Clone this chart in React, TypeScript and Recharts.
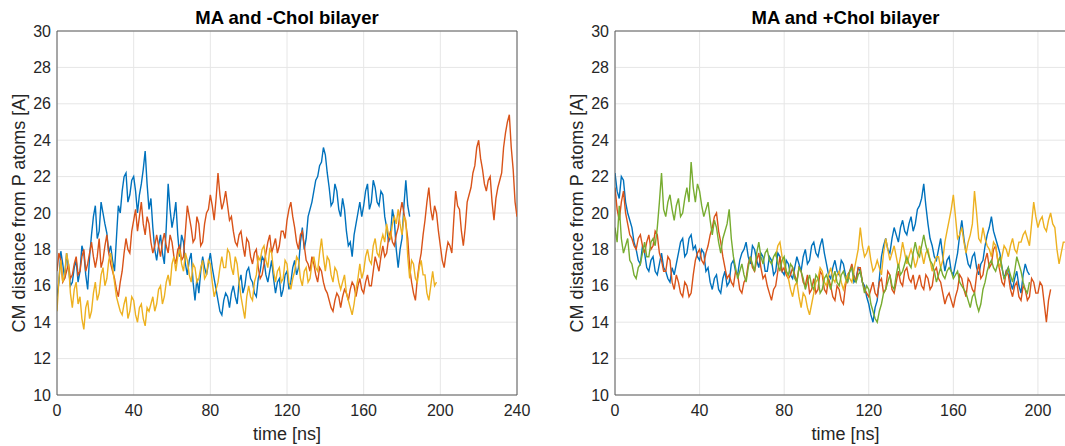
import React from "react";
import { LineChart, Line, XAxis, YAxis, CartesianGrid, ReferenceLine } from "recharts";

// sample grid shared by every trace (ns)
const TIME_NS = [
  0, 1, 2, 3, 4, 5, 6, 7, 8, 9, 10, 11, 12, 13, 14, 15, 16, 17, 18, 19,
  20, 21, 22, 23, 24, 25, 26, 27, 28, 29, 30, 31, 32, 33, 34, 35, 36, 37, 38, 39,
  40, 41, 42, 43, 44, 45, 46, 47, 48, 49, 50, 51, 52, 53, 54, 55, 56, 57, 58, 59,
  60, 61, 62, 63, 64, 65, 66, 67, 68, 69, 70, 71, 72, 73, 74, 75, 76, 77, 78, 79,
  80, 81, 82, 83, 84, 85, 86, 87, 88, 89, 90, 91, 92, 93, 94, 95, 96, 97, 98, 99,
  100, 101, 102, 103, 104, 105, 106, 107, 108, 109, 110, 111, 112, 113, 114, 115, 116, 117, 118, 119,
  120, 121, 122, 123, 124, 125, 126, 127, 128, 129, 130, 131, 132, 133, 134, 135, 136, 137, 138, 139,
  140, 141, 142, 143, 144, 145, 146, 147, 148, 149, 150, 151, 152, 153, 154, 155, 156, 157, 158, 159,
  160, 161, 162, 163, 164, 165, 166, 167, 168, 169, 170, 171, 172, 173, 174, 175, 176, 177, 178, 179,
  180, 181, 182, 183, 184, 185, 186, 187, 188, 189, 190, 191, 192, 193, 194, 195, 196, 197, 198, 199,
  200, 201, 202, 203, 204, 205, 206, 207, 208, 209, 210, 211, 212, 213, 214, 215, 216, 217, 218, 219,
  220, 221, 222, 223, 224, 225, 226, 227, 228, 229, 230, 231, 232, 233, 234, 235, 236, 237, 238, 239, 240,
];

// MA and -Chol bilayer
const NOCHOL_BLUE = [
  15.4, 16.2, 17.9, 17.2, 16.4, 17.8, 17.0, 16.0, 16.2, 17.0, 17.4, 16.2, 16.8, 18.2, 17.8, 16.6, 15.8, 17.6, 18.8, 19.8,
  20.4, 18.6, 19.0, 20.6, 20.0, 19.4, 18.9, 17.8, 18.2, 17.4, 16.8, 18.6, 20.4, 20.0, 21.2, 22.0, 22.2, 20.6, 21.0, 21.8,
  22.0, 21.2, 20.0, 21.0, 21.6, 22.4, 23.4, 21.6, 20.2, 20.8, 19.2, 18.0, 17.4, 18.2, 18.8, 17.8, 17.2, 19.2, 21.6, 20.2,
  19.2, 19.8, 20.6, 18.8, 17.6, 18.8, 18.4, 17.2, 16.6, 17.4, 17.8, 16.2, 15.2, 16.4, 15.6, 16.8, 17.6, 17.0, 16.6, 17.2,
  17.8, 17.0, 16.4, 15.8, 15.2, 14.6, 14.4, 15.2, 15.6, 15.4, 14.8, 15.6, 16.0, 15.4, 15.0, 16.2, 16.6, 15.6, 16.0, 16.8,
  17.0, 16.4, 16.2, 15.6, 15.4, 16.4, 16.8, 17.6, 17.4, 16.6, 16.2, 16.8, 17.4, 16.4, 15.6, 16.2, 16.4, 15.4, 15.8, 16.6,
  16.8, 15.8, 16.2, 17.0, 17.4, 16.6, 17.0, 18.4, 19.2, 18.0, 18.6, 19.8, 20.2, 20.6, 21.2, 21.8, 22.0, 22.6, 22.8, 23.6,
  23.2, 22.2, 21.4, 20.4, 20.6, 21.6, 21.2, 20.2, 19.8, 20.8, 20.2, 19.0, 18.2, 18.4, 17.6, 18.8, 19.4, 20.0, 20.6, 19.8,
  20.4, 21.2, 21.6, 20.2, 20.6, 21.8, 21.4, 20.6, 20.4, 21.2, 21.0, 19.8, 19.2, 18.4, 18.8, 20.2, 19.6, 18.0, 17.0, 18.0,
  18.6, 20.4, 21.8, 20.4, 19.8,
];
const NOCHOL_ORANGE = [
  16.8, 17.8, 17.4, 16.2, 16.4, 16.8, 17.2, 16.4, 16.6, 17.2, 17.6, 16.6, 16.8, 17.6, 18.0, 16.8, 17.2, 17.8, 18.4, 17.6,
  17.0, 17.6, 18.6, 17.0, 17.4, 18.2, 18.8, 17.8, 17.2, 16.8, 16.4, 15.8, 15.4, 16.2, 16.8, 17.8, 18.6, 18.0, 17.8, 19.0,
  19.6, 20.2, 19.0, 19.8, 20.6, 19.4, 18.8, 19.8, 19.4, 18.4, 17.8, 18.2, 18.8, 18.2, 17.6, 18.4, 18.9, 18.2, 17.8, 18.8,
  18.4, 17.6, 17.2, 18.0, 18.2, 17.4, 17.6, 19.0, 20.4, 19.8, 19.2, 18.4, 18.6, 19.8, 19.4, 18.2, 18.4, 19.4, 20.0, 20.2,
  21.0, 20.4, 19.6, 20.8, 22.2, 21.0, 20.2, 20.6, 21.2, 20.4, 19.6, 19.8, 19.0, 18.4, 18.2, 18.8, 19.0, 18.2, 17.6, 18.6,
  18.4, 17.6, 17.2, 17.8, 18.0, 17.0, 16.4, 16.6, 17.2, 17.8, 18.4, 18.8, 17.8, 18.2, 18.6, 17.8, 18.2, 19.0, 19.0, 18.6,
  19.6, 20.2, 20.6, 19.8, 19.2, 18.4, 18.0, 18.8, 19.0, 18.2, 17.4, 17.2, 16.8, 17.6, 17.2, 16.6, 16.2, 17.0, 16.8, 16.2,
  15.8, 15.6, 15.2, 14.8, 14.6, 15.2, 15.6, 15.4, 14.8, 15.4, 15.8, 15.6, 15.2, 15.8, 16.2, 16.0, 15.4, 16.0, 16.4, 15.8,
  15.6, 16.2, 16.6, 16.0, 16.0, 16.8, 17.6, 17.2, 16.8, 17.6, 18.2, 17.6, 17.8, 18.6, 19.0, 18.4, 18.2, 18.8, 19.2, 20.0,
  20.6, 20.0, 19.4, 18.6, 17.0, 16.2, 15.6, 15.2, 16.4, 17.2, 17.8, 18.8, 19.6, 20.6, 21.4, 20.2, 19.6, 20.4, 20.0, 19.0,
  18.2, 17.4, 17.0, 17.8, 18.4, 18.2, 17.8, 19.6, 21.2, 20.4, 20.2, 19.0, 18.2, 19.2, 20.6, 21.0, 21.4, 22.2, 22.6, 23.6,
  24.0, 23.0, 22.4, 21.6, 21.2, 21.8, 22.0, 20.6, 19.6, 20.8, 21.4, 21.8, 22.2, 23.6, 24.4, 25.0, 25.4, 23.6, 22.4, 20.6, 19.8,
];
const NOCHOL_YELLOW = [
  14.6, 16.4, 17.4, 16.2, 16.6, 17.8, 17.2, 15.6, 14.8, 15.8, 16.2, 15.0, 15.4, 14.2, 13.6, 14.8, 15.2, 14.2, 14.6, 15.6,
  16.2, 15.2, 15.6, 16.6, 17.0, 16.0, 16.4, 17.4, 17.8, 17.0, 16.2, 15.4, 15.0, 14.6, 14.4, 15.0, 15.4, 14.2, 14.6, 15.4,
  15.2, 14.4, 14.0, 14.8, 15.0, 14.2, 13.8, 14.8, 14.6, 15.0, 15.4, 14.6, 15.0, 15.8, 16.0, 15.0, 15.4, 16.2, 16.6, 16.0,
  17.2, 17.6, 16.8, 17.6, 18.0, 17.2, 16.8, 17.8, 17.4, 16.6, 16.2, 17.2, 17.0, 16.2, 16.4, 17.0, 17.4, 16.4, 16.6, 17.4,
  17.2, 16.2, 15.4, 15.8, 16.2, 17.0, 17.6, 17.0, 17.0, 18.0, 17.8, 17.0, 16.6, 17.6, 17.2, 16.2, 15.4, 14.8, 14.2, 15.4,
  16.0, 15.4, 15.2, 16.2, 16.6, 17.6, 17.4, 18.0, 18.2, 17.4, 17.0, 18.0, 17.8, 16.8, 16.2, 16.8, 17.0, 16.2, 16.4, 17.4,
  17.2, 16.2, 15.8, 16.4, 16.8, 17.6, 17.4, 16.4, 16.0, 16.8, 17.0, 16.2, 16.4, 17.2, 17.6, 17.0, 16.8, 17.8, 18.6, 17.6,
  16.8, 17.6, 17.4, 16.6, 16.2, 17.0, 16.8, 16.2, 15.8, 16.2, 16.6, 15.6, 15.2, 14.8, 14.4, 15.0, 15.8, 16.4, 17.2, 16.4,
  16.8, 17.6, 18.0, 17.4, 17.2, 18.2, 18.6, 17.8, 17.6, 18.4, 18.8, 18.4, 19.4, 18.8, 18.6, 19.4, 19.8, 19.4, 20.2, 19.4,
  18.8, 19.8, 19.6, 17.6, 16.4, 17.4, 17.2, 16.4, 16.2, 17.0, 17.4, 16.6, 16.6, 15.6, 15.2, 16.0, 16.8, 16.0, 16.2,
];

// MA and +Chol bilayer
const CHOL_BLUE = [
  22.2, 21.2, 20.8, 22.0, 21.8, 20.6, 20.0, 19.6, 19.2, 18.4, 18.0, 17.4, 17.2, 18.2, 17.8, 17.0, 16.8, 17.4, 17.6, 16.8,
  16.6, 17.2, 17.8, 17.0, 16.8, 16.4, 16.2, 17.0, 16.6, 17.2, 17.8, 18.4, 18.6, 17.6, 17.8, 18.6, 18.8, 18.0, 18.2, 17.6,
  17.4, 18.0, 17.8, 16.8, 17.0, 16.2, 15.8, 16.4, 16.6, 15.8, 15.6, 16.4, 16.8, 16.0, 16.2, 17.2, 17.4, 16.8, 16.6, 17.4,
  17.8, 18.0, 18.4, 17.6, 17.2, 18.2, 18.0, 17.4, 17.0, 17.8, 17.6, 16.8, 16.8, 17.6, 17.4, 16.6, 16.8, 17.8, 17.6, 16.8,
  16.6, 17.4, 17.2, 16.6, 16.4, 17.0, 17.6, 17.2, 16.8, 17.6, 18.0, 17.2, 17.4, 18.2, 18.4, 17.8, 17.6, 18.2, 18.6, 17.8,
  17.2, 16.6, 16.4, 17.0, 17.4, 16.8, 16.6, 17.4, 17.2, 16.6, 16.2, 16.8, 17.0, 16.2, 16.4, 17.0, 16.8, 16.2, 16.0, 15.4,
  15.0, 14.4, 14.0, 14.8, 15.2, 16.4, 17.6, 18.2, 18.6, 18.0, 17.8, 18.6, 19.2, 18.8, 18.4, 19.2, 19.6, 19.0, 18.8, 19.4,
  19.8, 19.0, 19.4, 20.2, 20.4, 20.8, 21.6, 20.4, 19.4, 18.6, 18.2, 17.6, 17.4, 18.0, 18.6, 17.6, 16.8, 17.4, 17.6, 16.8,
  16.6, 17.2, 17.8, 18.8, 19.6, 18.6, 17.8, 17.2, 17.0, 17.6, 17.8, 17.0, 16.6, 17.2, 17.4, 18.2, 18.8, 19.2, 19.8, 19.0,
  18.6, 18.2, 17.8, 17.0, 16.4, 16.8, 17.0, 16.2, 15.8, 16.4, 16.8, 16.0, 15.6, 16.6, 17.2, 16.8, 16.6,
];
const CHOL_ORANGE = [
  21.4, 20.2, 19.6, 20.6, 21.2, 20.0, 19.4, 18.8, 18.6, 18.2, 18.0, 18.6, 18.8, 18.2, 17.8, 18.4, 18.8, 18.0, 18.2, 19.0,
  18.8, 17.8, 17.4, 16.8, 16.8, 17.6, 17.4, 16.2, 15.8, 16.6, 16.2, 15.6, 15.4, 16.2, 16.0, 15.4, 15.6, 16.6, 17.4, 17.8,
  18.0, 17.4, 17.2, 17.8, 18.2, 18.8, 19.2, 19.8, 20.0, 19.0, 18.4, 17.6, 17.0, 16.4, 16.6, 16.2, 16.0, 16.8, 16.6, 15.8,
  15.6, 16.2, 16.4, 17.2, 17.6, 17.0, 16.8, 17.4, 17.8, 17.0, 16.4, 16.6, 16.0, 15.6, 15.2, 15.8, 16.0, 16.8, 17.6, 16.8,
  17.0, 16.6, 16.4, 16.6, 17.0, 16.6, 16.2, 17.0, 16.8, 16.2, 16.0, 16.6, 15.6, 15.8, 16.4, 15.6, 15.8, 16.8, 16.6, 15.8,
  15.6, 16.4, 16.0, 15.4, 15.2, 16.0, 15.8, 15.2, 15.0, 16.0, 16.6, 16.8, 17.2, 16.6, 16.2, 17.0, 17.0, 16.2, 15.8, 15.6,
  15.4, 15.8, 16.2, 15.6, 15.4, 16.2, 16.4, 15.6, 15.8, 16.8, 16.6, 15.8, 15.6, 16.2, 16.8, 16.2, 16.0, 16.8, 17.0, 16.4,
  16.2, 16.6, 15.8, 16.2, 16.6, 16.0, 15.8, 16.6, 16.4, 15.8, 16.0, 16.8, 17.0, 16.4, 16.2, 15.6, 15.0, 15.4, 15.6, 15.2,
  14.8, 15.4, 15.8, 16.6, 16.4, 15.8, 15.4, 16.4, 16.2, 15.8, 15.6, 16.6, 17.2, 16.4, 16.6, 17.4, 17.8, 17.0, 17.2, 18.0,
  18.2, 17.4, 16.8, 16.2, 16.0, 16.8, 16.6, 15.8, 15.4, 16.0, 16.2, 15.4, 15.2, 16.0, 15.8, 15.2, 15.4, 16.4, 16.2, 15.6,
  15.6, 16.2, 16.0, 15.0, 14.0, 15.2, 15.8,
];
const CHOL_YELLOW_START_NS = 76;
const CHOL_YELLOW = [
  17.6, 18.2, 18.4, 17.6, 17.2, 16.8, 16.4, 15.8, 15.4, 16.0, 16.2, 15.4, 14.8, 15.6, 15.4, 14.8, 14.4, 15.0, 15.6, 16.2,
  16.4, 17.0, 16.8, 16.2, 16.0, 16.6, 17.0, 16.4, 16.2, 16.6, 16.8, 16.2, 15.8, 16.2, 16.6, 16.4, 16.2, 16.8, 17.4, 18.0,
  19.2, 18.2, 17.6, 17.8, 18.2, 17.4, 16.8, 17.0, 17.4, 17.0, 16.6, 17.8, 18.6, 18.0, 17.4, 17.8, 18.2, 17.6, 17.0, 17.6,
  18.4, 17.8, 17.2, 17.6, 18.0, 17.6, 17.0, 17.4, 18.2, 17.8, 17.2, 17.8, 18.0, 17.4, 16.8, 17.2, 17.6, 17.6, 17.0, 17.4,
  18.4, 19.0, 19.6, 20.2, 21.0, 19.8, 18.6, 18.8, 19.2, 18.4, 17.8, 18.4, 18.8, 19.4, 21.2, 20.0, 18.6, 18.4, 19.2, 18.6,
  18.2, 18.0, 17.6, 18.4, 18.2, 17.4, 17.0, 17.6, 18.2, 18.0, 17.6, 18.2, 18.6, 18.0, 17.8, 18.4, 18.4, 18.8, 19.0, 18.6,
  18.2, 19.4, 20.6, 19.8, 19.2, 19.6, 19.8, 19.2, 19.0, 19.6, 20.0, 19.4, 19.2, 18.0, 17.2, 17.8, 18.4, 18.4, 18.0, 18.2, 18.6,
];
const CHOL_GREEN = [
  19.2, 18.4, 20.4, 18.6, 17.8, 18.2, 18.6, 17.4, 17.2, 16.6, 16.4, 17.0, 17.2, 17.8, 18.4, 17.6, 17.6, 18.4, 18.6, 18.2,
  19.2, 20.6, 22.2, 20.2, 19.8, 20.6, 21.0, 20.2, 19.6, 20.4, 20.8, 19.8, 20.0, 20.8, 21.4, 20.6, 22.8, 21.4, 20.6, 21.6,
  21.2, 20.4, 19.8, 20.2, 20.6, 19.6, 18.8, 19.6, 19.2, 18.4, 17.8, 18.6, 19.0, 19.4, 20.2, 18.6, 17.6, 17.0, 16.4, 16.8,
  17.2, 16.6, 16.2, 17.0, 17.6, 17.2, 16.8, 17.8, 18.4, 17.6, 17.2, 17.8, 18.0, 17.4, 17.2, 17.6, 17.8, 17.2, 16.8, 17.4,
  17.6, 16.8, 16.6, 17.2, 17.0, 16.4, 16.2, 17.0, 16.8, 16.4, 15.8, 16.2, 16.6, 16.0, 15.8, 16.6, 16.4, 15.6, 15.8, 16.4,
  16.6, 16.2, 15.8, 16.4, 16.8, 16.2, 16.0, 16.6, 16.8, 16.4, 16.2, 16.8, 17.0, 16.4, 16.2, 16.6, 16.8, 16.2, 15.6, 16.0,
  15.8, 15.0, 14.6, 14.2, 14.0, 14.6, 15.0, 15.6, 15.8, 16.2, 16.6, 16.0, 15.8, 16.6, 17.2, 16.6, 16.8, 17.2, 17.6, 17.2,
  17.0, 17.8, 18.4, 17.8, 17.6, 18.2, 18.8, 18.2, 17.8, 17.4, 17.2, 16.8, 16.2, 16.6, 17.0, 16.6, 16.4, 16.8, 17.0, 16.8,
  16.4, 16.6, 16.8, 16.2, 16.0, 15.8, 15.6, 15.2, 14.8, 15.4, 15.6, 15.0, 14.6, 15.0, 15.8, 16.2, 16.8, 17.2, 17.4, 17.0,
  16.8, 17.2, 17.6, 17.0, 16.4, 16.6, 17.0, 16.6, 16.2, 16.8, 17.6, 17.2, 16.8, 16.2, 15.8, 15.6, 16.2,
];

const Y_TICKS = [10, 12, 14, 16, 18, 20, 22, 24, 26, 28, 30];
const NOCHOL_X_TICKS = [0, 40, 80, 120, 160, 200, 240];
const CHOL_X_TICKS = [0, 40, 80, 120, 160, 200];

const COLORS: Record<string, string> = {
  blue: "#0072BD",
  orange: "#D95319",
  yellow: "#EDB120",
  green: "#77AC30",
};
const FONT = '"Liberation Sans", Arial, Helvetica, sans-serif';
const INK = "#262626";
const FRAME = "#5a5a5a";

type Trace = { key: string; values: number[]; startNs?: number };

function buildRows(traces: Trace[]) {
  return TIME_NS.map((t, i) => {
    const row: Record<string, number | null> = { t };
    traces.forEach((s) => {
      const offset = TIME_NS.indexOf(s.startNs ?? 0);
      const j = i - offset;
      row[s.key] = j >= 0 && j < s.values.length ? s.values[j] : null;
    });
    return row;
  });
}

const noCholRows = buildRows([
  { key: "blue", values: NOCHOL_BLUE },
  { key: "orange", values: NOCHOL_ORANGE },
  { key: "yellow", values: NOCHOL_YELLOW },
]);
const cholRows = buildRows([
  { key: "blue", values: CHOL_BLUE },
  { key: "orange", values: CHOL_ORANGE },
  { key: "yellow", values: CHOL_YELLOW, startNs: CHOL_YELLOW_START_NS },
  { key: "green", values: CHOL_GREEN },
]);

interface PanelProps {
  left: number;
  title: string;
  rows: Record<string, number | null>[];
  keys: string[];
  xMax: number;
  xTicks: number[];
  marginLeft: number;
  marginRight: number;
}

function Panel({ left, title, rows, keys, xMax, xTicks, marginLeft, marginRight }: PanelProps) {
  const plotLeft = marginLeft + 50;
  const plotRight = 540 - marginRight;
  const cx = (plotLeft + plotRight) / 2;
  const tickStyle = { fill: INK, fontSize: 16, fontFamily: FONT };
  return (
    <div style={{ position: "absolute", left, top: 0, width: 540, height: 446 }}>
      <div
        style={{
          position: "absolute", left: cx - 200, top: 8, width: 400, textAlign: "center",
          fontFamily: FONT, fontWeight: "bold", fontSize: 18.5, color: "#000", lineHeight: "20px",
        }}
      >
        {title}
      </div>
      <LineChart width={540} height={446} data={rows} margin={{ top: 31, right: marginRight, bottom: 21, left: marginLeft }}>
        <CartesianGrid stroke="#e6e6e6" strokeWidth={1} />
        <XAxis
          dataKey="t" type="number" domain={[0, xMax]} ticks={xTicks} interval={0}
          allowDataOverflow height={30} tickLine={false} tickSize={0} tickMargin={10}
          axisLine={{ stroke: FRAME, strokeWidth: 1 }} tick={tickStyle}
        />
        <YAxis
          type="number" domain={[10, 30]} ticks={Y_TICKS} interval={0} width={50}
          tickLine={false} tickSize={0} tickMargin={6}
          axisLine={{ stroke: FRAME, strokeWidth: 1 }} tick={tickStyle}
        />
        <ReferenceLine y={30} stroke={FRAME} strokeWidth={1} />
        <ReferenceLine x={xMax} stroke={FRAME} strokeWidth={1} />
        {keys.map((k) => (
          <Line
            key={k} dataKey={k} stroke={COLORS[k]} strokeWidth={1.4} dot={false}
            activeDot={false} connectNulls={false} isAnimationActive={false} type="linear"
          />
        ))}
      </LineChart>
      <div
        style={{
          position: "absolute", left: cx - 100, top: 423, width: 200, textAlign: "center",
          fontFamily: FONT, fontSize: 18, color: INK, lineHeight: "22px",
        }}
      >
        time [ns]
      </div>
      <div
        style={{
          position: "absolute", left: plotLeft - 38 - 160, top: 213 - 11, width: 320, textAlign: "center",
          fontFamily: FONT, fontSize: 18, color: INK, lineHeight: "22px", transform: "rotate(-90deg)",
        }}
      >
        CM distance from P atoms [A]
      </div>
    </div>
  );
}

export default function App() {
  return (
    <div
      style={{
        position: "absolute", left: 0, top: 0, width: 1065, height: 446,
        overflow: "hidden", background: "#fff",
      }}
    >
      <Panel
        left={0} title="MA and -Chol bilayer" rows={noCholRows}
        keys={["blue", "orange", "yellow"]} xMax={240} xTicks={NOCHOL_X_TICKS}
        marginLeft={7} marginRight={23}
      />
      <Panel
        left={540} title="MA and +Chol bilayer" rows={cholRows}
        keys={["blue", "orange", "yellow", "green"]} xMax={218} xTicks={CHOL_X_TICKS}
        marginLeft={25} marginRight={4}
      />
    </div>
  );
}
